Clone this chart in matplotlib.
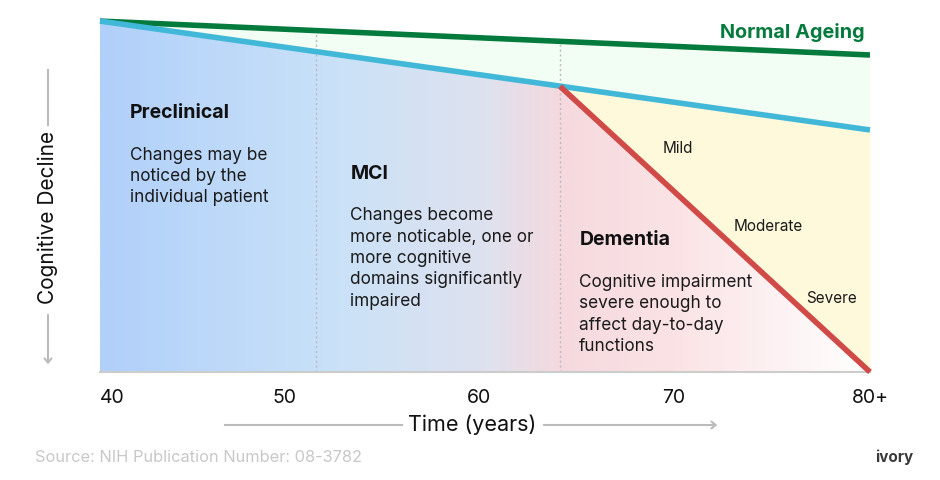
import numpy as np
import matplotlib
matplotlib.use('Agg')
import matplotlib.pyplot as plt
from matplotlib.colors import LinearSegmentedColormap
from matplotlib.patches import Polygon

plt.rcParams['font.family'] = ['Inter', 'DejaVu Sans']

# data
ages = [40, 80]
normal_ageing = [98.3, 88.8]
mci_line = [98.3, 67.8]
dementia_ages = [63.9, 80]
dementia_line = [80.0, 0.0]
stage_starts = [51.2, 63.9]

tick_pos = [40, 49.6, 59.7, 69.8, 80]
tick_labels = ['40', '50', '60', '70', '80+']

stages = [
    (41.55, 'Preclinical', 'Changes may be\nnoticed by the\nindividual patient'),
    (53.0, 'MCI', 'Changes become\nmore noticable, one or\nmore cognitive\ndomains significantly\nimpaired'),
    (64.9, 'Dementia', 'Cognitive impairment\nsevere enough to\naffect day-to-day\nfunctions'),
]
stage_title_y = [72.6, 55.6, 36.9]
severity = [('Mild', 69.25, 62.6), ('Moderate', 72.9, 40.8), ('Severe', 76.7, 20.6)]

fig = plt.figure(figsize=(9.4, 4.8), dpi=100)
ax = fig.add_axes([100/940, (480-372)/480, 770/940, (372-15)/480])
ax.set_xlim(40, 80)
ax.set_ylim(0, 100)

# light green band between normal ageing and mci line
ax.fill_between(ages, mci_line, normal_ageing, color='#f2fdf4', lw=0, zorder=1)
# yellow between blue and red (dementia region)
blue_at = np.interp(dementia_ages, ages, mci_line)
ax.fill_between(dementia_ages, dementia_line, blue_at, color='#fff9dc', lw=0, zorder=1)

# gradient under curve
cmap = LinearSegmentedColormap.from_list('g', [
    (0.0, '#b1d0fa'), (0.3, '#c9e1f8'), (0.5, '#dee2ef'),
    (0.6, '#f5d9de'), (0.75, '#fbe3e5'), (1.0, '#ffffff')])
grad = np.linspace(0, 1, 400).reshape(1, -1)
im = ax.imshow(grad, extent=[40, 80, 0, 100], aspect='auto', cmap=cmap,
               origin='lower', zorder=1)
blue_split = np.interp(dementia_ages[0], ages, mci_line)
poly = Polygon([(ages[0], 0), (ages[0], mci_line[0]),
                (dementia_ages[0], blue_split), (dementia_ages[1], dementia_line[1])],
               closed=True, transform=ax.transData)
im.set_clip_path(poly)

# stage dividers
for s in stage_starts:
    top = np.interp(s, ages, normal_ageing)
    ax.plot([s, s], [0, top], ls=(0, (1.5, 2)), color='#bbbbbb', lw=1, zorder=2)

ax.plot(ages, normal_ageing, color='#047a3c', lw=4, solid_capstyle='butt', zorder=4, clip_on=False)
ax.plot(ages, mci_line, color='#42b8d8', lw=4, solid_capstyle='butt', zorder=4, clip_on=False)
ax.plot(dementia_ages, dementia_line, color='#d04a48', lw=4, solid_capstyle='butt', zorder=5, clip_on=False)

ax.text(79.7, 95.0, 'Normal Ageing', color='#047a3c', fontsize=14.3, fontweight='bold',
        ha='right', va='center', zorder=6)

for (x, title, body), ty in zip(stages, stage_title_y):
    ax.text(x, ty, title, fontsize=14, fontweight='bold', ha='left', va='center', color='#111111')
    ax.text(x, ty - 9.5, body, fontsize=12.4, ha='left', va='top', color='#1a1a1a', linespacing=1.33)

for name, x, y in severity:
    ax.text(x, y, name, fontsize=11, ha='left', va='center', color='#1a1a1a')

# axes styling
for sp in ['top', 'right', 'left']:
    ax.spines[sp].set_visible(False)
ax.spines['bottom'].set_color('#cccccc')
ax.spines['bottom'].set_linewidth(1.5)
ax.set_yticks([])
ax.set_xticks(tick_pos)
ax.set_xticklabels(tick_labels, fontsize=14, color='#111111')
ax.tick_params(axis='x', length=0, pad=12)
ax.get_xticklabels()[0].set_ha('left')

# y axis label with line and arrow
fig.text(48/940, 1 - 217/480, 'Cognitive Decline', rotation=90, fontsize=15,
         ha='center', va='center', color='#111111')
fig.add_artist(plt.Line2D([48/940, 48/940], [1 - 70/480, 1 - 125/480], color='#bbbbbb', lw=1.5))
fig.add_artist(matplotlib.patches.FancyArrowPatch((48/940, 1 - 312/480), (48/940, 1 - 367/480),
               transform=fig.transFigure, arrowstyle='->,head_length=3,head_width=2.5',
               color='#bbbbbb', lw=1.5))

# x axis label with line and arrow
fig.text(472/940, 1 - 425/480, 'Time (years)', fontsize=15.5, ha='center', va='center', color='#111111')
fig.add_artist(plt.Line2D([225/940, 402/940], [1 - 425/480, 1 - 425/480], color='#bbbbbb', lw=1.5))
fig.add_artist(matplotlib.patches.FancyArrowPatch((541/940, 1 - 425/480), (720/940, 1 - 425/480),
               transform=fig.transFigure, arrowstyle='->,head_length=3,head_width=2.5',
               color='#bbbbbb', lw=1.5))

fig.text(35/940, 1 - 457/480, 'Source: NIH Publication Number: 08-3782', fontsize=11.8,
         color='#c8c8c8', ha='left', va='center')
fig.text(913/940, 1 - 457/480, 'ivory', fontsize=11, fontweight='bold', color='#3a3a3a',
         ha='right', va='center')

fig.savefig('out.png', dpi=100)
